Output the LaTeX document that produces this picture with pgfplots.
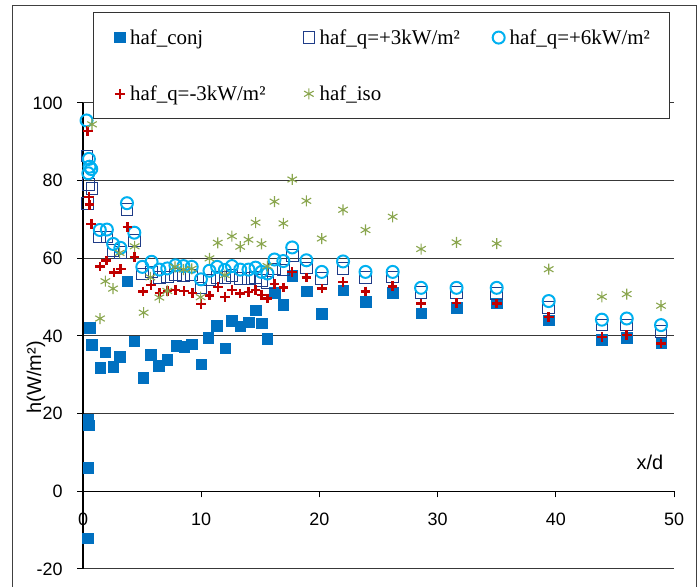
\documentclass[border=0pt]{standalone}
\usepackage{pgfplots}
\pgfplotsset{compat=1.18}
\usepackage{fontspec}
\setmainfont{Liberation Sans}
\newfontfamily\tnr{Liberation Serif}
\definecolor{conj}{HTML}{0070C0}
\definecolor{qpt}{HTML}{1F3C88}
\definecolor{qps}{HTML}{00B0F0}
\definecolor{qmt}{HTML}{C00000}
\definecolor{isoc}{HTML}{8AA64E}
\definecolor{gridc}{HTML}{383838}
\begin{document}
\begin{tikzpicture}[x=1bp,y=1bp]
\useasboundingbox (0,0) rectangle (699,587);
\draw[black!75, line width=1bp] (12,-2) -- (12,581) -- (696,581) -- (696,-2);
\begin{axis}[
  at={(83bp,18bp)}, anchor=south west,
  scale only axis, width=591bp, height=466bp,
  xmin=0, xmax=50, ymin=-20, ymax=100,
  axis x line=middle, axis y line=left,
  axis line style={-, line width=1.6bp, black},
  hide obscured x ticks=false,
  xtick={0,10,...,50}, ytick={-20,0,...,100},
  tick align=outside, major tick length=6bp,
  tick style={black, line width=1bp},
  ymajorgrids, grid style={gridc, line width=1bp},
  clip=false,
  /pgf/number format/assume math mode=true,
  ticklabel style={font=\fontsize{18}{20}\selectfont},
  xticklabel style={yshift=-12bp},
  yticklabel style={anchor=east, xshift=-11bp},
  legend style={at={(axis description cs:0.0169,1.1953)}, anchor=north west,
    draw=black!80, line width=1bp, fill=white,
    font=\tnr\fontsize{21}{24}\selectfont, legend columns=3,
    row sep=36bp, inner xsep=21bp, inner ysep=15bp,
    /tikz/every even column/.append style={column sep=34bp}},
  legend cell align=left,
]
\addplot[only marks, mark=square*, mark size=5.3bp, conj, mark options={fill=conj, draw=conj}] coordinates {
(0.4,-12.1) (0.45,6.1) (0.5,17.0) (0.45,18.4) (0.59,42.1) (0.76,37.8) (1.44,31.9) (1.89,35.8) (2.57,32.1) (3.13,34.7) (3.75,54.1) (4.34,38.7) (5.1,29.3) (5.75,35.2) (6.4,32.4) (7.13,33.9) (7.87,37.5) (8.57,37.2) (9.2,37.9) (10.0,32.7) (10.6,39.5) (11.3,42.7) (12.04,36.9) (12.6,43.9) (13.3,42.5) (14.0,43.6) (14.6,46.6) (15.1,43.3) (15.6,39.3) (16.2,51.2) (16.95,48.1) (17.7,55.5) (18.9,51.5) (20.2,45.8) (22.0,51.8) (23.9,48.8) (26.2,51.1) (28.6,45.9) (31.6,47.3) (35.0,48.4) (39.4,44.1) (43.9,39.1) (46.0,39.6) (48.9,38.1)
};
\addlegendentry{\makebox[140bp][l]{\hspace{3bp}haf\_conj}}
\addplot[only marks, mark=square, mark size=5.8bp, qpt, mark options={line width=1bp}] coordinates {
(0.35,86.4) (0.45,79.0) (0.75,78.0) (0.4,74.1) (1.42,65.5) (2.02,65.5) (2.55,62.0) (3.16,61.5) (3.72,72.6) (4.34,64.6) (5.02,56.0) (5.8,56.5) (6.46,55.0) (7.13,55.2) (7.82,55.8) (8.5,55.5) (9.2,55.7) (9.98,52.4) (10.7,54.4) (11.35,55.0) (12.0,55.0) (12.6,55.5) (13.3,54.8) (14.0,54.8) (14.6,55.0) (15.1,54.3) (15.6,53.8) (16.2,57.2) (16.95,57.0) (17.7,60.8) (18.9,57.5) (20.2,54.8) (22.0,57.4) (23.9,55.1) (26.2,55.2) (28.6,51.2) (31.6,51.2) (35.0,50.9) (39.4,47.3) (43.9,42.8) (46.0,42.8) (48.9,41.1)
};
\addlegendentry{\makebox[140bp][l]{\hspace{3bp}haf\_q=+3kW/m²}}
\addplot[only marks, mark=o, mark size=6bp, qps, mark options={line width=2bp}] coordinates {
(0.3,95.5) (0.5,85.6) (0.55,83.6) (0.45,81.9) (0.7,83.0) (1.42,67.3) (2.02,67.4) (2.55,63.7) (3.16,62.7) (3.72,74.2) (4.34,66.6) (5.02,57.8) (5.8,59.1) (6.46,57.1) (7.13,57.4) (7.82,58.2) (8.5,58.0) (9.2,57.8) (9.98,54.6) (10.7,56.8) (11.35,57.8) (12.0,57.0) (12.6,58.0) (13.3,57.1) (14.0,57.1) (14.6,57.6) (15.1,56.5) (15.6,56.1) (16.2,59.7) (16.95,59.3) (17.7,62.8) (18.9,59.5) (20.2,56.5) (22.0,59.2) (23.9,56.5) (26.2,56.5) (28.6,52.4) (31.6,52.4) (35.0,52.4) (39.4,49.0) (43.9,44.2) (46.0,44.5) (48.9,42.8)
};
\addlegendentry{\makebox[140bp][l]{\hspace{3bp}haf\_q=+6kW/m²}}
\addplot[only marks, mark=+, mark size=4.8bp, qmt, mark options={line width=2.5bp}] coordinates {
(0.4,92.8) (0.5,75.8) (0.55,73.8) (0.7,68.9) (1.44,57.9) (1.97,59.4) (2.62,56.3) (3.19,57.3) (3.75,68.1) (4.37,60.4) (5.08,51.5) (5.75,53.1) (6.46,51.1) (7.16,51.6) (7.84,51.9) (8.55,51.6) (9.25,51.1) (10.0,48.3) (10.7,50.4) (11.4,52.6) (12.0,50.1) (12.6,51.8) (13.3,50.9) (14.0,51.3) (14.6,51.8) (15.1,50.5) (15.6,49.7) (16.2,53.4) (16.95,52.5) (17.7,56.5) (18.9,55.1) (20.2,52.2) (22.0,53.9) (23.9,51.5) (26.2,52.8) (28.6,48.4) (31.6,48.5) (35.0,48.4) (39.4,44.9) (43.9,39.8) (46.0,40.2) (48.9,38.1)
};
\addlegendentry{\makebox[140bp][l]{\hspace{3bp}haf\_q=-3kW/m²}}
\addplot[only marks, mark=asterisk, mark size=5.5bp, isoc, mark options={line width=1.1bp}] coordinates {
(0.76,94.5) (1.44,44.5) (1.89,54.1) (2.54,52.2) (3.1,61.4) (4.37,63.1) (5.13,46.0) (5.7,55.1) (6.46,49.9) (7.13,51.6) (7.78,57.8) (8.5,57.1) (9.2,57.3) (9.95,50.0) (10.7,60.0) (11.4,64.0) (12.0,55.7) (12.6,65.7) (13.3,63.0) (14.0,64.8) (14.6,69.2) (15.1,63.7) (15.6,58.0) (16.2,74.6) (16.95,69.0) (17.7,80.3) (18.9,74.8) (20.2,65.1) (22.0,72.5) (23.9,67.3) (26.2,70.7) (28.6,62.4) (31.6,64.1) (35.0,63.8) (39.4,57.2) (43.9,50.1) (46.0,50.8) (48.9,47.8)
};
\addlegendentry{\makebox[140bp][l]{\hspace{3bp}haf\_iso}}
\node[font=\fontsize{20}{22}\selectfont] at (axis cs:47.97,7.5) {x/d};
\node[font=\fontsize{20}{22}\selectfont, rotate=90] at ([xshift=-47bp]axis cs:0,29.4) {h(W/m²)};
\end{axis}
\end{tikzpicture}
\end{document}
